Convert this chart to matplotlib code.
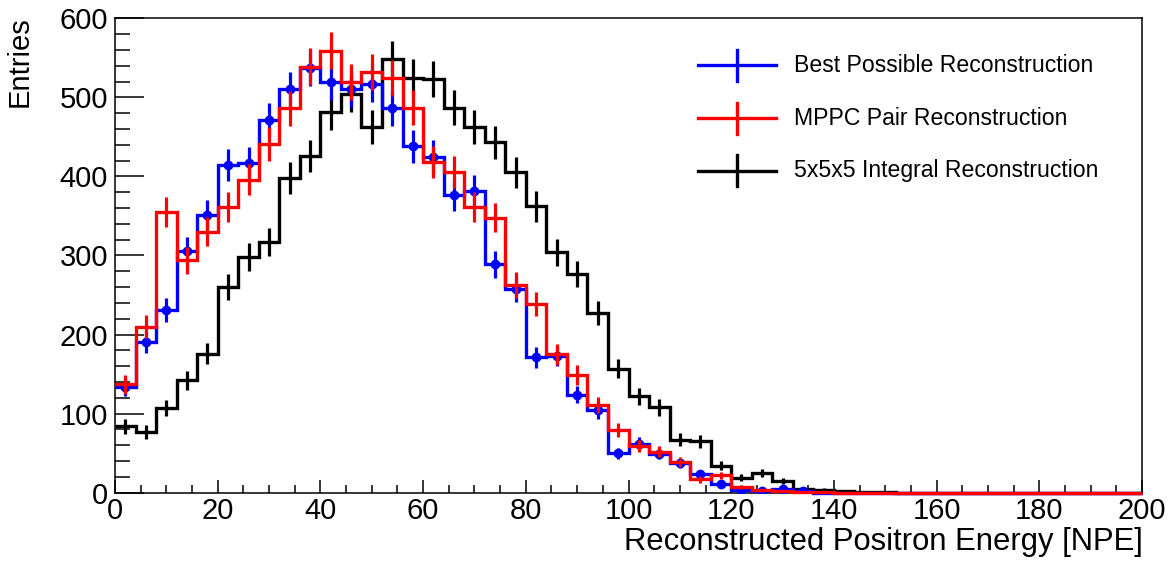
import numpy as np
import matplotlib
matplotlib.use("Agg")
import matplotlib.pyplot as plt

# 50 bins of 4 NPE from 0 to 200
bin_edges = np.arange(0, 204, 4)

best_possible = [134, 191, 231, 306, 351, 414, 417, 471, 510, 537,
                 519, 511, 517, 486, 438, 425, 376, 382, 289, 257,
                 171, 173, 124, 104, 50, 62, 49, 37, 24, 11,
                 4, 2, 5, 2, 0, 0, 0, 0, 0, 0,
                 0, 0, 0, 0, 0, 0, 0, 0, 0, 0]
mppc_pair = [137, 210, 355, 294, 330, 361, 396, 441, 486, 539,
             559, 520, 532, 524, 487, 418, 406, 361, 348, 263,
             239, 175, 149, 111, 79, 59, 52, 39, 17, 22,
             7, 3, 2, 1, 1, 0, 0, 0, 0, 0,
             0, 0, 0, 0, 0, 0, 0, 0, 0, 0]
integral_5x5x5 = [84, 77, 107, 142, 176, 260, 298, 317, 398, 426,
                  481, 504, 462, 548, 525, 523, 487, 463, 443, 405,
                  362, 304, 277, 227, 157, 122, 108, 67, 65, 34,
                  19, 25, 15, 5, 4, 2, 1, 1, 0, 0,
                  0, 0, 0, 0, 0, 0, 0, 0, 0, 0]

labels = ["Best Possible Reconstruction",
          "MPPC Pair Reconstruction",
          "5x5x5 Integral Reconstruction"]
colors = ["#0000ff", "#ff0000", "#000000"]

plt.rcParams["font.family"] = ["Liberation Sans", "DejaVu Sans"]

fig = plt.figure(figsize=(11.73, 5.63), dpi=100)
ax = fig.add_axes([115 / 1173, 1 - 492.7 / 563, 1027 / 1173, 474.4 / 563])

centers = 0.5 * (bin_edges[:-1] + bin_edges[1:])
series = [best_possible, mppc_pair, integral_5x5x5]
zorders = [3, 4, 2]
for vals, col, z, i in zip(series, colors, zorders, range(3)):
    vals = np.asarray(vals, dtype=float)
    ax.stairs(vals, bin_edges, color=col, linewidth=2.4, zorder=z,
              baseline=None, clip_on=False)
    mask = vals > 0
    ax.errorbar(centers[mask], vals[mask], yerr=np.sqrt(vals[mask]),
                fmt="o" if i == 0 else "none", color=col, ms=6,
                elinewidth=2.3, capsize=0, zorder=z + 0.1)

ax.set_xlim(0, 200)
ax.set_ylim(0, 600)
ax.set_xticks(np.arange(0, 201, 20))
ax.set_xticks(np.arange(0, 201, 5), minor=True)
ax.set_yticks(np.arange(0, 601, 100))
ax.set_yticks(np.arange(0, 601, 20), minor=True)
ax.tick_params(axis="both", which="both", direction="in", top=False,
               right=False, width=1.1, labelsize=21)
ax.tick_params(axis="x", which="major", length=9.2, pad=3)
ax.tick_params(axis="x", which="minor", length=5.5)
ax.tick_params(axis="y", which="major", length=21, pad=5)
ax.tick_params(axis="y", which="minor", length=10.8)
for sp in ax.spines.values():
    sp.set_linewidth(1.1)

# legend (ROOT-style, no frame)
rows = [0.901, 0.789, 0.679]
for lab, col, yy in zip(labels, colors, rows):
    ax.plot([0.5677, 0.6437], [yy, yy], color=col, lw=2.4,
            transform=ax.transAxes, clip_on=False)
    ax.plot([0.6057, 0.6057], [yy - 0.033, yy + 0.033], color=col, lw=2.4,
            transform=ax.transAxes, clip_on=False)
    ax.text(0.661, yy, lab, fontsize=16.6, va="center", ha="left",
            transform=ax.transAxes)

fig.text(1143 / 1173, 1 - 550 / 563, "Reconstructed Positron Energy [NPE]",
         fontsize=22.3, ha="right", va="baseline")
fig.text(6 / 1173, 1 - 16 / 563, "Entries", fontsize=21, rotation=90,
         ha="left", va="top")

fig.savefig("out.png", dpi=100)
